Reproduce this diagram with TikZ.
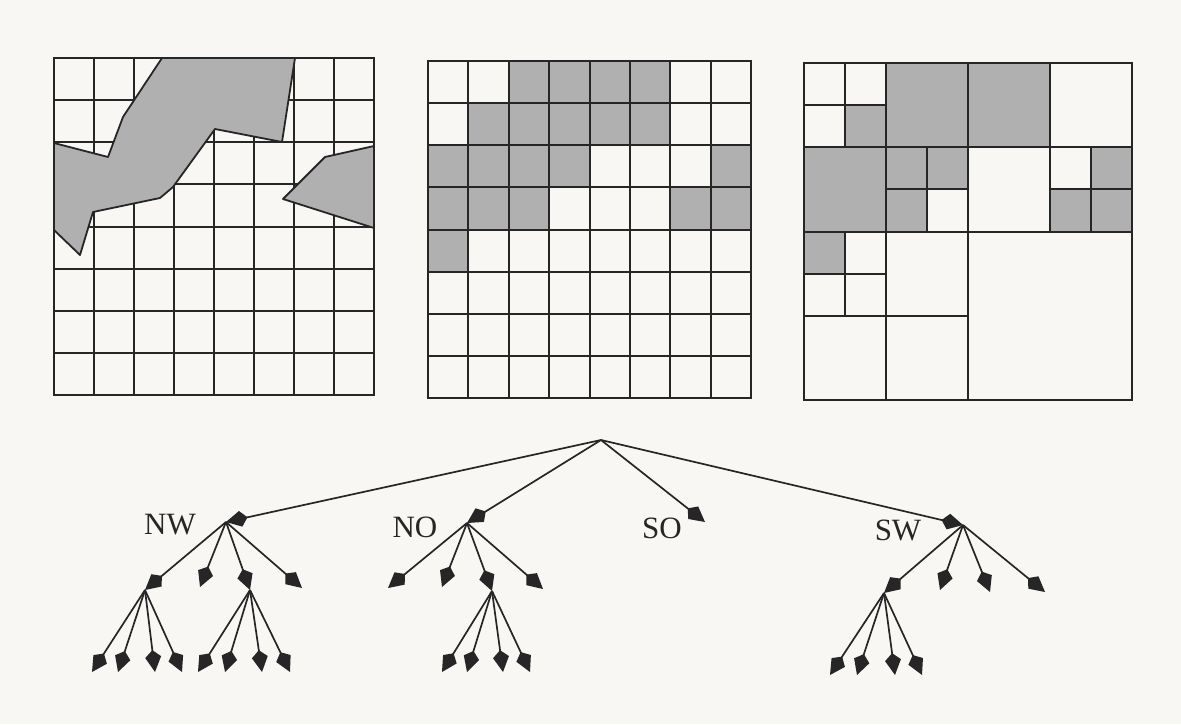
\documentclass[tikz,border=0pt]{standalone}
\usepackage{fontspec}
\setmainfont{Liberation Serif}
\usetikzlibrary{arrows.meta}
\definecolor{paper}{RGB}{248,247,244}
\definecolor{shade}{RGB}{176,176,176}
\definecolor{ink}{RGB}{38,38,38}
\begin{document}
\begin{tikzpicture}[x=1pt,y=-1pt,
  gridline/.style={line width=2pt, draw=ink, line cap=rect},
  cellfill/.style={fill=shade},
  polyshape/.style={fill=shade, draw=ink, line width=1.8pt, line join=round},
  edge/.style={line width=1.7pt, draw=ink, -{Kite[length=22pt,width=16pt,inset=7pt]}},
  lbl/.style={font=\fontsize{31}{36}\selectfont, text=ink, inner sep=0pt}]
\fill[paper] (0,0) rectangle (1181,724);
\useasboundingbox (0,0) rectangle (1181,724);

% ---------- Grid 1 with polygons ----------
\begin{scope}[shift={(54,58)}, x=40pt, y=-42.125pt]
  \foreach \i in {0,...,8} {
    \draw[gridline] (\i,0) -- (\i,8);
    \draw[gridline] (0,\i) -- (8,\i);
  }
\end{scope}
\filldraw[polyshape] (162,58) -- (295,58) -- (282,142) -- (215,129) -- (173,187)
  -- (160,198) -- (93,212) -- (80,255) -- (54,230) -- (54,143) -- (108,157)
  -- (123,117) -- cycle;
\filldraw[polyshape] (374,146) -- (325,157) -- (283,199) -- (374,228) -- cycle;

% ---------- Grid 2: raster ----------
\begin{scope}[shift={(428,61)}, x=40.375pt, y=-42.125pt]
  \foreach \c/\r in {2/0,3/0,4/0,5/0, 1/1,2/1,3/1,4/1,5/1,
                     0/2,1/2,2/2,3/2,7/2, 0/3,1/3,2/3,6/3,7/3, 0/4}
    \fill[cellfill] (\c,\r) rectangle ++(1,1);
  \foreach \i in {0,...,8} {
    \draw[gridline] (\i,0) -- (\i,8);
    \draw[gridline] (0,\i) -- (8,\i);
  }
\end{scope}

% ---------- Grid 3: quadtree ----------
\begin{scope}[shift={(804,63)}, x=41pt, y=-42.125pt]
  \fill[cellfill] (1,1) rectangle (2,2);
  \fill[cellfill] (2,0) rectangle (4,2);
  \fill[cellfill] (0,2) rectangle (2,4);
  \fill[cellfill] (2,2) rectangle (4,3);
  \fill[cellfill] (2,3) rectangle (3,4);
  \fill[cellfill] (4,0) rectangle (6,2);
  \fill[cellfill] (7,2) rectangle (8,3);
  \fill[cellfill] (6,3) rectangle (8,4);
  \fill[cellfill] (0,4) rectangle (1,5);
  \draw[gridline] (0,0) rectangle (8,8);
  \draw[gridline] (4,0) -- (4,8);
  \draw[gridline] (0,4) -- (8,4);
  \draw[gridline] (2,0) -- (2,8);
  \draw[gridline] (0,2) -- (8,2);
  \draw[gridline] (6,0) -- (6,4);
  \draw[gridline] (0,6) -- (4,6);
  \draw[gridline] (1,0) -- (1,2);
  \draw[gridline] (0,1) -- (2,1);
  \draw[gridline] (3,2) -- (3,4);
  \draw[gridline] (2,3) -- (4,3);
  \draw[gridline] (7,2) -- (7,4);
  \draw[gridline] (6,3) -- (8,3);
  \draw[gridline] (1,4) -- (1,6);
  \draw[gridline] (0,5) -- (2,5);
\end{scope}

% ---------- Tree ----------
\coordinate (root) at (601,440);
\coordinate (nw) at (226,522);
\coordinate (no) at (467,523);
\coordinate (so) at (705,522);
\coordinate (sw) at (963,525);

\node[lbl] (tNW) at (170,525) {NW};
\node[lbl] (tNO) at (415,527) {NO};
\node[lbl] (tSO) at (662,528) {SO};
\node[lbl] (tSW) at (898,530) {SW};

\foreach \t in {nw,no,so,sw} \draw[edge] (root) -- (\t);

% NW subtree
\coordinate (nw1) at (145,590);
\coordinate (nw2) at (200,587);
\coordinate (nw3) at (250,590);
\coordinate (nw4) at (302,588);
\foreach \t in {nw1,nw2,nw3,nw4} \draw[edge] (nw) -- (\t);
\foreach \x [count=\k] in {92,118,155,182} {
  \coordinate (nwa\k) at (\x,672);
  \draw[edge] (nw1) -- (nwa\k);
}
\foreach \x [count=\k] in {198,225,262,290} {
  \coordinate (nwc\k) at (\x,672);
  \draw[edge] (nw3) -- (nwc\k);
}

% NO subtree
\coordinate (no1) at (388,588);
\coordinate (no2) at (442,587);
\coordinate (no3) at (492,591);
\coordinate (no4) at (543,589);
\foreach \t in {no1,no2,no3,no4} \draw[edge] (no) -- (\t);
\foreach \x [count=\k] in {442,467,503,530} {
  \coordinate (noc\k) at (\x,672);
  \draw[edge] (no3) -- (noc\k);
}

% SW subtree
\coordinate (sw1) at (884,593);
\coordinate (sw2) at (940,590);
\coordinate (sw3) at (990,592);
\coordinate (sw4) at (1045,592);
\foreach \t in {sw1,sw2,sw3,sw4} \draw[edge] (sw) -- (\t);
\foreach \x [count=\k] in {830,857,895,922} {
  \coordinate (swa\k) at (\x,675);
  \draw[edge] (sw1) -- (swa\k);
}
\end{tikzpicture}
\end{document}
